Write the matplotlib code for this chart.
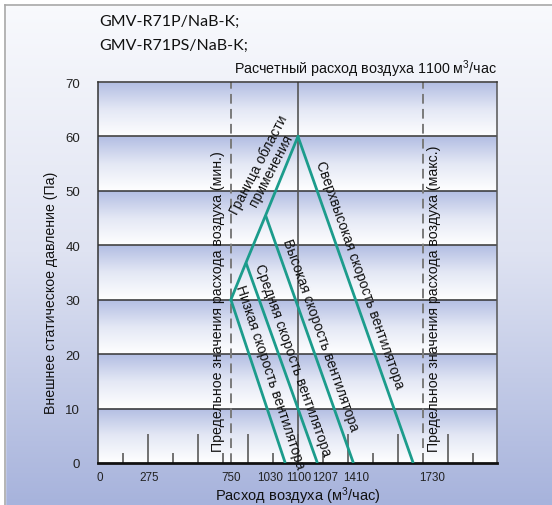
import numpy as np
import matplotlib
matplotlib.use("Agg")
import matplotlib.pyplot as plt
from matplotlib.colors import LinearSegmentedColormap
from matplotlib.lines import Line2D

# ---------------- data ----------------
title_lines = ["GMV-R71P/NaB-K;", "GMV-R71PS/NaB-K;"]
design_text = "Расчетный расход воздуха 1100 м$^{3}$/час"
xlabel = "Расход воздуха (м$^{3}$/час)"
ylabel = "Внешнее статическое давление (Па)"

y_ticks = [0, 10, 20, 30, 40, 50, 60, 70]
x_tick_pos = [11, 280, 731, 946, 1102, 1252, 1423, 1840]
x_tick_labels = ["0", "275", "750", "1030", "1100", "1207", "1410", "1730"]

x_max = 2195
tick_step = 137.5
tall_tick = 5.4
short_tick = 1.85

design_flow = 1100
min_flow_line = 731
max_flow_line = 1787

# fan curves: (airflow, pressure) start at boundary, end at zero pressure
low_x = [731, 1030];  low_y = [30.0, 0]
mid_x = [814, 1207];  mid_y = [36.8, 0]
high_x = [922, 1405]; high_y = [45.5, 0]
super_x = [1100, 1734]; super_y = [60.0, 0]
boundary_x = [731, 814, 922, 1100]
boundary_y = [30.0, 36.8, 45.5, 60.0]

curve_labels = ["Низкая скорость вентилятора", "Средняя скорость вентилятора",
                "Высокая скорость вентилятора", "Сверхвысокая скорость вентилятора"]
curve_label_pos = [(946, 16.0), (1072, 19.1), (1226, 23.7), (1441, 34.7)]
boundary_label = "Граница области\nприменения"
boundary_label_pos = (918, 54.4)
min_label = "Предельное значения расхода воздуха (мин.)"
max_label = "Предельное значения расхода воздуха (макс.)"
min_label_pos = (660, 2.2)
max_label_pos = (1848, 2.2)

# ---------------- style ----------------
NARROW = ["Liberation Sans Narrow", "Liberation Sans", "DejaVu Sans"]
plt.rcParams["font.family"] = NARROW
plt.rcParams["mathtext.fontset"] = "custom"
plt.rcParams["mathtext.rm"] = "Liberation Sans"
plt.rcParams["mathtext.it"] = "Liberation Sans"
plt.rcParams["mathtext.default"] = "rm"

TEAL = "#1c9c8c"
W, H = 552, 506
fig = plt.figure(figsize=(W / 100, H / 100), dpi=100)

# figure background gradient
bg = fig.add_axes([0, 0, 1, 1], zorder=-10)
bg.set_axis_off()
bg_cmap = LinearSegmentedColormap.from_list("bg", ["#f9fafd", "#dfe3f2", "#a7b3dc"])
grad = np.linspace(0, 1, 256).reshape(-1, 1)
bg.imshow(grad, aspect="auto", cmap=bg_cmap, extent=(0, 1, 0, 1), origin="upper")
bg.set_xlim(0, 1); bg.set_ylim(0, 1)
# white margin + grey frame at top/left
bg.add_patch(plt.Rectangle((0, 1 - 5.5 / H), 1, 5.5 / H, color="white", zorder=2))
bg.add_patch(plt.Rectangle((0, 0), 5 / W, 1, color="white", zorder=2))
bg.add_line(Line2D([5.5 / W, 1], [1 - 6 / H, 1 - 6 / H], color="#a8a8a8", lw=1.2, zorder=3))
bg.add_line(Line2D([5.5 / W, 5.5 / W], [0, 1 - 6 / H], color="#a8a8a8", lw=1.2, zorder=3))

# main axes
ax = fig.add_axes([98 / W, (H - 464) / H, 399 / W, 381 / H])
ax.set_xlim(0, x_max)
ax.set_ylim(0, 70)

# banded gradient inside plot (blue at top of each 10-unit band -> white at bottom)
band_cmap = LinearSegmentedColormap.from_list("band", ["#ffffff", "#e4e8f5", "#b3bee3"])
yy = np.linspace(0, 70, 700)
band = (yy % 10) / 10.0
ax.imshow(band.reshape(-1, 1), aspect="auto", cmap=band_cmap, origin="lower",
          extent=(0, x_max, 0, 70), zorder=0)

# horizontal grid lines
for yv in y_ticks[1:-1]:
    ax.axhline(yv, color="#333333", lw=1.1, zorder=1)

# small tick marks inside
tick_xs = np.arange(1, int(x_max // tick_step) + 1) * tick_step
heights = [tall_tick if k % 2 == 0 else short_tick for k in range(1, len(tick_xs) + 1)]
ax.vlines(tick_xs, 0, heights, color="#666666", lw=1.3, zorder=1)

# design airflow line
ax.axvline(design_flow, color="#555555", lw=1.2, zorder=1)
# min/max dashed lines
for xv in (min_flow_line, max_flow_line):
    ax.axvline(xv, color="#7a7a7a", lw=1.4, dashes=(5, 2.7), zorder=1)

# curves
curves = [(low_x, low_y), (mid_x, mid_y), (high_x, high_y), (super_x, super_y)]
for xs, ys in curves:
    ax.plot(xs, ys, color=TEAL, lw=2.0, zorder=3, solid_capstyle="butt")
ax.plot(boundary_x, boundary_y, color=TEAL, lw=2.0, zorder=3)


def screen_angle(x0, y0, x1, y1):
    p0 = ax.transData.transform((x0, y0))
    p1 = ax.transData.transform((x1, y1))
    return np.degrees(np.arctan2(p1[1] - p0[1], p1[0] - p0[0]))


for (xs, ys), lab, pos in zip(curves, curve_labels, curve_label_pos):
    ang = screen_angle(xs[0], ys[0], xs[1], ys[1])
    ax.text(pos[0], pos[1], lab, rotation=ang, rotation_mode="anchor",
            ha="center", va="center", fontsize=10, color="#111111", zorder=4)

b_ang = screen_angle(boundary_x[0], boundary_y[0], boundary_x[-1], boundary_y[-1]) - 5
ax.text(boundary_label_pos[0], boundary_label_pos[1], boundary_label, rotation=b_ang,
        rotation_mode="anchor", ha="center", va="center", multialignment="center",
        fontsize=10, color="#111111", linespacing=0.95, zorder=4)

for lab, pos in [(min_label, min_label_pos), (max_label, max_label_pos)]:
    ax.text(pos[0], pos[1], lab, rotation=90, rotation_mode="anchor",
            ha="left", va="center", fontsize=10.2, color="#111111", zorder=4)

# spines
for side in ("top", "left"):
    ax.spines[side].set_color("#333333")
    ax.spines[side].set_linewidth(1.1)
ax.spines["right"].set_color("#555555")
ax.spines["right"].set_linewidth(1.1)
ax.spines["bottom"].set_color("#111111")
ax.spines["bottom"].set_linewidth(2.0)

ax.set_yticks(y_ticks)
ax.set_yticklabels([str(v) for v in y_ticks])
ax.set_xticks(x_tick_pos)
ax.set_xticklabels(x_tick_labels)
ax.tick_params(axis="y", length=0, pad=13, labelsize=9.5, labelcolor="#222222")
ax.tick_params(axis="x", length=0, pad=6, labelsize=8.4, labelcolor="#222222")

ax.set_xlabel(xlabel, fontsize=10.5, color="#111111", labelpad=1)
ax.set_ylabel(ylabel, fontsize=10.2, color="#111111")
ax.yaxis.set_label_coords(-0.10, 0.45)

# titles
fig.text(99 / W, 1 - 22 / H, title_lines[0], fontsize=11.5, family=["Lato", "DejaVu Sans"],
         ha="left", va="center", color="#111111")
fig.text(99 / W, 1 - 46 / H, title_lines[1], fontsize=11.5, family=["Lato", "DejaVu Sans"],
         ha="left", va="center", color="#111111")
fig.text(497 / W, 1 - 69 / H, design_text, fontsize=10.3, ha="right", va="center",
         color="#111111")

fig.savefig("out.png", dpi=100)
